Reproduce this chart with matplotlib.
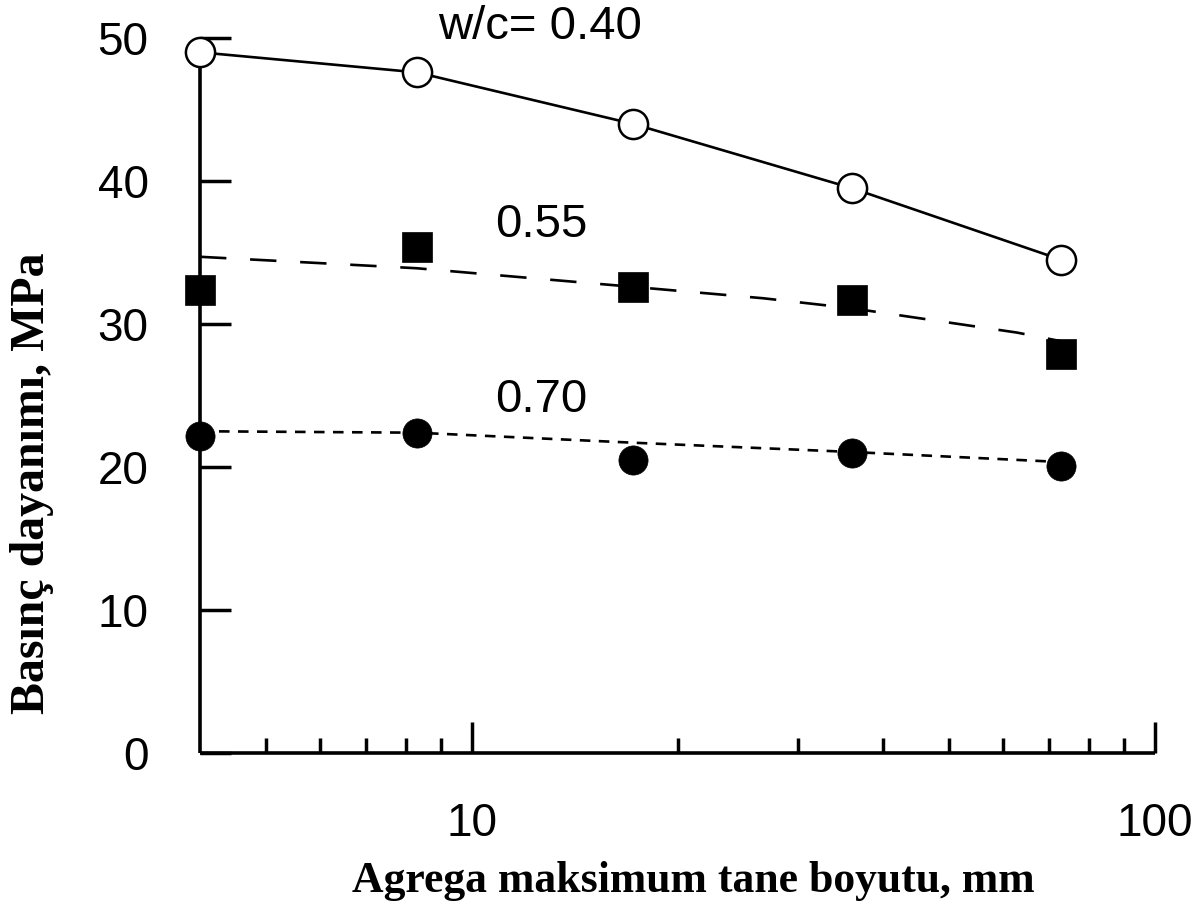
import matplotlib
matplotlib.use('agg')
from matplotlib import pyplot as plt
from matplotlib.ticker import FixedLocator, NullFormatter

# data
size_mm = [4.0, 8.3, 17.2, 36.0, 72.8]
wc040 = [49.0, 47.6, 44.0, 39.5, 34.5]
wc055 = [32.4, 35.4, 32.6, 31.7, 27.9]
wc070 = [22.2, 22.4, 20.5, 21.0, 20.1]

# trend lines
fit040_x = [4.0, 8.3, 17.2, 36.0, 72.8]
fit040_y = [49.0, 47.6, 44.0, 39.5, 34.5]
fit055_x = [4.0, 8.3, 17.2, 26.7, 36.0, 42.4, 62.8, 72.8]
fit055_y = [34.7, 33.9, 32.6, 31.8, 31.1, 30.6, 29.4, 28.8]
fit070_x = [4.0, 8.3, 17.2, 36.0, 72.8]
fit070_y = [22.5, 22.4, 21.7, 21.05, 20.35]

yticks = [0, 10, 20, 30, 40, 50]
xmajor = [10, 100]
xminor = [5, 6, 7, 8, 9, 20, 30, 40, 50, 60, 70, 80, 90]

sans = 'Liberation Sans'
serif = 'Liberation Serif'

fig = plt.figure(figsize=(11.96, 9.22), dpi=100)
ax = fig.add_axes([200/1196, 169/922, 955/1196, 715/922])

ax.plot(fit040_x, fit040_y, color='black', lw=1.9, clip_on=False)
ax.plot(fit055_x, fit055_y, color='black', lw=1.9, dashes=(10, 9), clip_on=False)
ax.plot(fit070_x, fit070_y, color='black', lw=1.9, dashes=(4, 3.2), clip_on=False)

ax.plot(size_mm, wc040, 'o', ms=21, mfc='white', mec='black', mew=1.8, clip_on=False, zorder=5)
ax.plot(size_mm, wc055, 's', ms=22, mfc='black', mec='black', mew=0.5, clip_on=False, zorder=5)
ax.plot(size_mm, wc070, 'o', ms=21, mfc='black', mec='black', mew=0.5, clip_on=False, zorder=5)

ax.set_xscale('log')
ax.set_xlim(4, 100)
ax.set_ylim(0, 50)

ax.spines['top'].set_visible(False)
ax.spines['right'].set_visible(False)
for s in ['left', 'bottom']:
    ax.spines[s].set_linewidth(2.6)
    ax.spines[s].set_capstyle('butt')

ax.xaxis.set_major_locator(FixedLocator(xmajor))
ax.xaxis.set_minor_locator(FixedLocator(xminor))
ax.xaxis.set_minor_formatter(NullFormatter())
ax.set_xticklabels([str(v) for v in xmajor])
ax.set_yticks(yticks)
ax.set_yticklabels([str(v) for v in yticks])

ax.tick_params(axis='y', direction='in', length=22, width=2.5, pad=37,
               labelsize=33)
ax.tick_params(axis='x', which='major', direction='in', length=22, width=2.5,
               pad=35, labelsize=33)
ax.tick_params(axis='x', which='minor', direction='in', length=11, width=2.5)
for lab in ax.get_xticklabels() + ax.get_yticklabels():
    lab.set_family(sans)

ax.text(12.6, 50.8, 'w/c= 0.40', family=sans, fontsize=34, ha='center', va='center')
ax.text(12.65, 36.9, '0.55', family=sans, fontsize=34, ha='center', va='center')
ax.text(12.65, 24.7, '0.70', family=sans, fontsize=34, ha='center', va='center')

fig.text(693/1196, 1 - 881/922, 'Agrega maksimum tane boyutu, mm', family=serif,
         fontweight='bold', fontsize=31.5, ha='center', va='center')
fig.text(32/1196, 1 - 483/922, 'Basınç dayanımı, MPa', family=serif,
         fontweight='bold', fontsize=34.5, ha='center', va='center', rotation=90)

fig.savefig('out.png', dpi=100)
